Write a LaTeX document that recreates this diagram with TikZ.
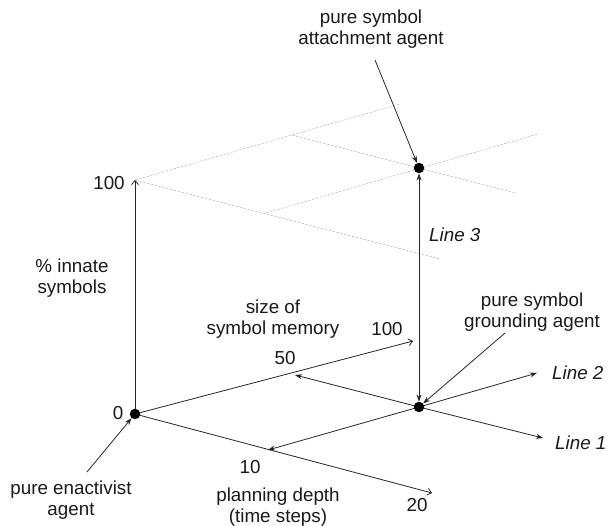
\documentclass[tikz,border=0pt]{standalone}
\usepackage{fontspec}
\setmainfont{Liberation Sans}
\usetikzlibrary{arrows.meta}
\begin{document}
\begin{tikzpicture}[x=1pt,y=-1pt,
  txt/.style={font=\fontsize{18.8}{21}\selectfont, inner sep=0pt, align=center, text=black!90},
  itxt/.style={txt, font=\fontsize{18.8}{21}\selectfont\itshape},
  dot/.style={circle, fill=black, inner sep=0pt, minimum size=10.5pt},
  axis/.style={line width=0.8pt, black!85, -{Straight Barb[length=4pt,width=7pt]}},
  arr/.style={line width=0.8pt, black!85, -{Stealth[length=7pt,width=5pt]}},
  grid/.style={line width=0.55pt, gray!55, dash pattern=on 2.5pt off 1.5pt}
]
\useasboundingbox (0,0) rectangle (609,526);
% key points
\coordinate (O) at (135,414);
\coordinate (Gc) at (419,407);
\coordinate (Ac) at (419,168);
\coordinate (V100) at (135,180);
\coordinate (S100) at (413,341);
\coordinate (P20) at (432,493);
\coordinate (S50) at (295,375);
\coordinate (P10) at (268,450);
\coordinate (L2) at (537,373);
\coordinate (L1) at (543,438);
% top plane (dashed)
\coordinate (TS) at (400,104);
\coordinate (TP) at (440,259);
\coordinate (T50) at (292,135);
\coordinate (T10) at (266,213);
\coordinate (TA1) at (515,193);
\coordinate (TA2) at (538,134);
\draw[grid] (V100) -- (TS);
\draw[grid] (V100) -- (TP);
\draw[grid] (T50) -- (TA1);
\draw[grid] (T10) -- (TA2);
% axes
\draw[axis] (O) -- (V100);
\draw[axis] (O) -- (S100);
\draw[axis] (O) -- (P20);
% lines from grounding point
\draw[arr] (Gc) -- (S50);
\draw[arr] (Gc) -- (P10);
\draw[arr] (Gc) -- (L2);
\draw[arr] (Gc) -- (L1);
% dots
\node[dot] (Od) at (O) {};
\node[dot] (G) at (Gc) {};
\node[dot] (A) at (Ac) {};
\draw[line width=0.8pt, black!85, {Stealth[length=7pt,width=5pt]}-{Stealth[length=7pt,width=5pt]}] (G.north) -- (A.south);
% labels
\node[txt] (lattach) at (371,29) {pure symbol\\attachment agent};
\node[txt] (lground) at (532,312) {pure symbol\\grounding agent};
\node[txt] (lenact) at (71,500) {pure enactivist\\agent};
\node[txt] (linnate) at (72,278) {\% innate\\symbols};
\node[txt] (lsize) at (273,319) {size of\\symbol memory};
\node[txt] (lplan) at (278,507) {planning depth\\(time steps)};
\node[txt] (v100) at (109,183) {100};
\node[txt] (v0) at (118,413) {0};
\node[txt] (s100) at (387,329) {100};
\node[txt] (s50) at (285,358) {50};
\node[txt] (p10) at (250,467) {10};
\node[txt] (p20) at (417,505) {20};
\node[itxt, anchor=west] (line3) at (429,235) {Line 3};
\node[itxt, anchor=west] (line2) at (552,373) {Line 2};
\node[itxt, anchor=west] (line1) at (555,443) {Line 1};
% pointers
\coordinate (pa) at (375,60);
\coordinate (pg) at (505,333);
\coordinate (pe) at (87,472);
\draw[arr] (pa) -- (A);
\draw[arr] (pg) -- (G);
\draw[arr] (pe) -- (Od);
\end{tikzpicture}
\end{document}
